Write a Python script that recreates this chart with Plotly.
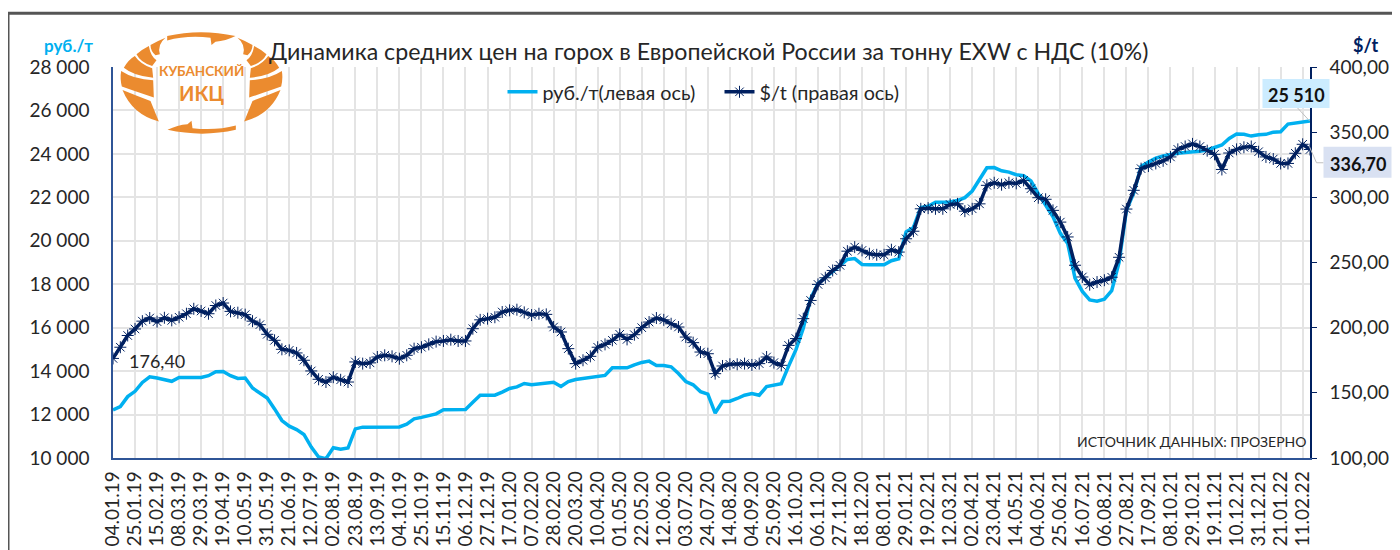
import pandas as pd
import plotly.graph_objects as go

W, H = 1400, 550
OFF = 8  # the page's own body margin
PL, PT, PW, PH = 112.5, 66.0, 1197.0, 392.0  # plot area in page pixels
FIX_R, FIX_B, FIX_T = 0.5, 7.0, 1.0  # the page lays the figure out slightly smaller than asked
categories = pd.date_range("2019-01-04", periods=164, freq="7D").strftime("%d.%m.%y").tolist()
tick_labels = categories[::3]

rub_per_t = [
    12214,12367,12825,13070,13480,13740,13680,13620,13530,13710,
    13710,13710,13710,13790,13970,13985,13790,13665,13680,13220,
    12980,12760,12260,11725,11465,11310,11085,10500,10045,9970,
    10470,10400,10460,11340,11420,11420,11420,11420,11420,11430,
    11560,11800,11870,11970,12030,12220,12220,12220,12230,12568,
    12891,12891,12891,13030,13200,13276,13430,13370,13415,13476,
    13490,13290,13520,13615,13660,13677,13740,13800,14150,14150,
    14150,14290,14400,14460,14260,14260,14200,13890,13520,13370,
    13057,12936,12070,12600,12617,12740,12890,12966,12890,13286,
    13360,13420,14230,14990,15976,17340,18030,18300,18560,18820,
    19140,19180,18910,18895,18895,18895,19080,19170,20414,20612,
    21527,21590,21770,21790,21790,21850,21985,22290,22850,23360,
    23370,23220,23160,23040,23000,22750,22170,21630,21100,20340,
    19880,18280,17670,17280,17220,17310,17700,19000,21400,22200,
    23420,23620,23800,23910,23980,24030,24060,24076,24120,24180,
    24290,24410,24714,24912,24900,24820,24880,24900,25000,25020,
    25370,25410,25460,25510,
]
usd_per_t = [
    176.4,185,194,199,205,207.4,204.6,207.6,205.6,208,
    210.7,214.5,212.8,210.7,217,218.9,212.5,211.5,210,205,
    202.3,194.9,190.3,183.4,182.6,180.6,175,166.8,160.4,158.3,
    162,160,158.3,173.7,172.4,173,177.5,178.8,178,176.2,
    178.8,183.9,185,187.2,189.3,189.8,190.8,189.8,189.8,199.2,
    206,206.9,208,212,213.3,213.8,211.7,209.7,210.7,210.2,
    200.5,196.7,183.9,172.4,175,178,185,187.2,190.3,194.9,
    191,194.6,200,204.3,207.4,206,203,200.5,192.8,188.5,
    181.3,180,164.7,170.6,171.9,171.9,172.4,171.4,172.4,177.5,
    173.2,171.1,186.4,191.6,206.9,220.9,233.2,238.3,243.9,247.8,
    258.7,261.8,259.3,256.7,255.9,255.9,259.8,258,268.2,274,
    291.2,291.7,291.2,291.2,294.5,295,289.4,291.2,295,309.2,
    311.2,309.7,311.2,310.7,313,306.6,299.7,298.5,290,281,
    269.6,247.9,238.9,233,235,236.4,238.7,254,291,305.4,
    322,324,326,328,331,336.8,339,341,339,335.8,
    333,321.4,334,336.8,338.4,339,335,331,329.4,326,
    326,333.8,340.7,336.7,
]
assert len(rub_per_t) == len(usd_per_t) == len(categories) == 164

BLUE, NAVY, ORANGE, INK = "#00B0F0", "#002060", "#EB8B2F", "#262626"
FONT = "Lato"


def fx(x):
    return (x - PL) / PW


def fy(y):
    return 1 - (y - PT) / PH


def px(x, y):
    return f"{fx(x):.5f},{fy(y):.5f}"


def logo_path(cmds, mirror=False, rot=False):
    out = []
    for c, pts in cmds:
        s = []
        for X, Y in pts:
            if mirror:
                X = 606 - X
            if rot:
                X, Y = 606 - X, 372 - Y
            s.append(px(100 + X / 3, 20 + Y / 3))
        out.append(c + " ".join(s))
    return " ".join(out) + " Z"


leaves = [
    [("M", [(150, 72)]), ("Q", [(170, 60), (195, 50)]), ("Q", [(170, 70), (178, 100)]), ("L", [(165, 103)]), ("Q", [(150, 90), (150, 72)])],
    [("M", [(108, 100)]), ("Q", [(125, 85), (145, 75)]), ("Q", [(150, 105), (168, 118)]), ("L", [(155, 135)]), ("Q", [(120, 125), (108, 100)])],
    [("M", [(70, 140)]), ("Q", [(85, 115), (103, 105)]), ("Q", [(120, 130), (155, 142)]), ("L", [(158, 170)]), ("Q", [(100, 165), (70, 140)])],
    [("M", [(62, 150)]), ("Q", [(100, 175), (158, 178)]), ("L", [(160, 230)]), ("Q", [(100, 210), (64, 197)]), ("Q", [(58, 172), (62, 150)])],
    [("M", [(66, 207)]), ("Q", [(110, 225), (150, 240)]), ("L", [(175, 302)]), ("Q", [(95, 280), (66, 207)])],
]
arrow = [("M", [(200, 45)]), ("Q", [(300, 22), (405, 45)]), ("Q", [(375, 60), (345, 62)]), ("L", [(333, 72)]),
         ("L", [(330, 50)]), ("Q", [(260, 42), (200, 58)])]

shapes = []
for leaf in leaves:
    for m in (False, True):
        shapes.append(dict(type="path", xref="paper", yref="paper", layer="above", line_width=0,
                           fillcolor=ORANGE, path=logo_path(leaf, mirror=m)))
for r in (False, True):
    shapes.append(dict(type="path", xref="paper", yref="paper", layer="above", line_width=0,
                       fillcolor=ORANGE, path=logo_path(arrow, rot=r)))

for a, b, col, wd in [((7.5, 560), (7.5, 12), "#555555", 3), ((7.5, 12), (1400, 12), "#555555", 3),
                      ((1297, 107), (1309, 120), "#BFBFBF", 1), ((1309, 146), (1316, 162), "#BFBFBF", 1),
                      ((1316, 162), (1323, 162), "#BFBFBF", 1)]:
    shapes.append(dict(type="line", xref="paper", yref="paper", layer="above",
                       x0=fx(a[0]), y0=fy(a[1]), x1=fx(b[0]), y1=fy(b[1]),
                       line=dict(color=col, width=wd)))
for x0, y0, x1, y1, col in [(1262, 78, 1329, 107, "#CCECFF"), (1323, 146, 1391, 177, "#D9E1F2")]:
    shapes.append(dict(type="rect", xref="paper", yref="paper", layer="above", line_width=0, fillcolor=col,
                       x0=fx(x0), x1=fx(x1), y0=fy(y0), y1=fy(y1)))


def note(text, x, y, size, color=INK, bold=False, xanchor="center"):
    return dict(text=f"<b>{text}</b>" if bold else text, x=fx(x), y=fy(y), xref="paper", yref="paper",
                showarrow=False, xanchor=xanchor, yanchor="middle",
                font=dict(family=FONT, size=size, color=color))


annotations = [
    note("Динамика средних цен на горох в Европейской России за тонну EXW с НДС (10%)", 708, 50, 23.2),
    note("руб./т", 68, 44, 17, BLUE, True),
    note("$/t", 1365, 44, 18, NAVY, True),
    note("176,40", 156, 361, 18),
    note("25 510", 1296, 94, 18, "#111111", True),
    note("336,70", 1357, 163, 18, "#111111", True),
    note("ИСТОЧНИК ДАННЫХ: ПРОЗЕРНО", 1307, 441, 14, xanchor="right"),
    note("КУБАНСКИЙ", 201, 70, 13.5, ORANGE, True),
    note("ИКЦ", 201, 92, 20, ORANGE, True),
]

fig = go.Figure()
fig.add_trace(go.Scatter(x=categories, y=rub_per_t, name="руб./т(левая ось)", mode="lines",
                         line=dict(color=BLUE, width=3.5), yaxis="y"))
fig.add_trace(go.Scatter(x=categories, y=usd_per_t, name="$/t (правая ось)", mode="lines+markers",
                         line=dict(color=NAVY, width=3.5),
                         marker=dict(symbol="asterisk-open", size=10, color=NAVY, line=dict(color=NAVY, width=1)),
                         yaxis="y2"))

fig.update_layout(
    width=W, height=H, autosize=False,
    margin=dict(l=PL - OFF, r=W - (PL - OFF) - PW - FIX_R, t=PT - OFF + FIX_T, b=H - (PT - OFF) - PH - FIX_B, pad=0),
    paper_bgcolor="white", plot_bgcolor="white", separators=", ",
    font=dict(family=FONT, size=18, color=INK),
    shapes=shapes, annotations=annotations,
    legend=dict(orientation="h", x=fx(502), y=fy(91), xanchor="left", yanchor="middle",
                itemwidth=30, entrywidth=172, entrywidthmode="pixels",
                font=dict(family=FONT, size=19.8), bgcolor="rgba(0,0,0,0)"),
    xaxis=dict(type="category", categoryorder="array", categoryarray=categories,
               range=[0, 163], tickmode="array", tickvals=tick_labels, ticktext=tick_labels, tickangle=-90,
               showgrid=True, gridcolor="#E4E4E4", gridwidth=1.6, showline=True, linecolor="#2F5597", linewidth=1.5,
               ticks="", ticklabelstandoff=4, tickfont=dict(family=FONT, size=19, color=INK)),
    yaxis=dict(range=[10000, 28000], dtick=2000, tickformat=",d",
               showgrid=True, gridcolor="#E4E4E4", gridwidth=1.6, showline=True, linecolor="#2F5597", linewidth=1.5,
               ticks="", ticklabelstandoff=18, zeroline=False, tickfont=dict(family=FONT, size=19, color=INK)),
    yaxis2=dict(overlaying="y", side="right", anchor="x", range=[100, 400],
                dtick=50, tickformat=".2f", showgrid=False, showline=True, linecolor=NAVY, linewidth=1.5,
                ticks="outside", ticklen=5, tickcolor=NAVY, ticklabelstandoff=9, zeroline=False,
                tickfont=dict(family=FONT, size=19, color=INK)),
)

fig.write_html("out.html", config=dict(displayModeBar=False))
